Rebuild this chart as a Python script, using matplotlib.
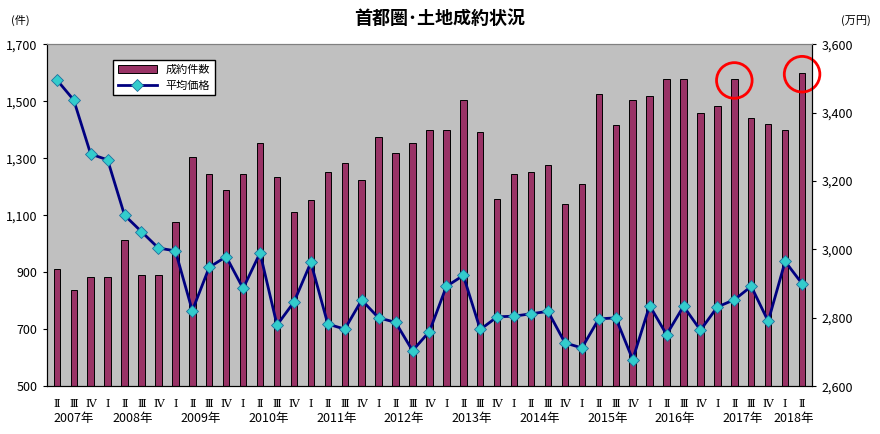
import matplotlib
matplotlib.use("Agg")
import matplotlib.pyplot as plt
from matplotlib.patches import Ellipse

plt.rcParams['font.family'] = ['Noto Sans CJK JP', 'DejaVu Sans']

quarters = ['Ⅱ','Ⅲ','Ⅳ'] + ['Ⅰ','Ⅱ','Ⅲ','Ⅳ']*10 + ['Ⅰ','Ⅱ']
years = ['2007年','2008年','2009年','2010年','2011年','2012年','2013年','2014年','2015年','2016年','2017年','2018年']
counts = [910, 838, 885, 882, 1012, 890, 890, 1077, 1305, 1246, 1190, 1246, 1352, 1235, 1110,
          1153, 1252, 1283, 1223, 1376, 1318, 1355, 1400, 1400, 1505, 1393, 1157, 1245, 1252,
          1276, 1140, 1208, 1527, 1418, 1503, 1520, 1578, 1578, 1460, 1482, 1578, 1442, 1420,
          1400, 1600]
prices = [3496, 3437, 3279, 3262, 3100, 3052, 3004, 2996, 2821, 2948, 2979, 2886, 2990, 2779,
          2846, 2962, 2782, 2767, 2852, 2800, 2787, 2704, 2760, 2892, 2924, 2766, 2803, 2805,
          2812, 2819, 2727, 2712, 2797, 2800, 2678, 2836, 2751, 2834, 2764, 2832, 2853, 2892,
          2790, 2965, 2900]
highlight = [40, 44]

fig = plt.figure(figsize=(8.8, 4.34), dpi=100)
ax = fig.add_axes([0.053, 0.11, 0.87, 0.788])
ax2 = ax.twinx()
ax.set_zorder(1); ax2.set_zorder(2); ax.patch.set_visible(True)
ax2.patch.set_visible(False)
ax.set_facecolor('#c0c0c0')

x = list(range(len(counts)))
ax.bar(x, counts, width=0.38, color='#993366', edgecolor='black', linewidth=0.7, label='成約件数')
ax.set_ylim(500, 1700)
ax.set_yticks(range(500, 1701, 200))
ax.set_yticklabels([f'{v:,}' for v in range(500, 1701, 200)], fontsize=9)
ax.set_xlim(-0.6, len(counts) - 0.4)
ax.set_xticks(x)
ax.set_xticklabels(quarters, fontsize=8, fontfamily='DejaVu Serif')
ax.tick_params(axis='x', length=0, pad=9)
ax.tick_params(axis='y', length=3)

ax2.plot(x, prices, color='#000080', linewidth=2, marker='D', markersize=6,
         markerfacecolor='#33cccc', markeredgecolor='#1f6f9f', markeredgewidth=0.6, label='平均価格')
ax2.set_ylim(2600, 3600)
ax2.set_yticks(range(2600, 3601, 200))
ax2.set_yticklabels([f'{v:,}' for v in range(2600, 3601, 200)], fontsize=9)
ax2.tick_params(axis='y', length=3)
for s in ['top']:
    ax.spines[s].set_color('#808080'); ax2.spines[s].set_color('#808080')

for i in highlight:
    ax.add_patch(Ellipse((i, counts[i] - 5), 2.1, 125, fill=False, edgecolor='red', linewidth=2, zorder=5, clip_on=False))

pos = []
idx = 0
sizes = [3] + [4]*10 + [2]
for n in sizes:
    pos.append(idx + (n - 1) / 2)
    idx += n
for p, yl in zip(pos, years):
    ax.text(p, -0.075, yl, transform=ax.get_xaxis_transform(), ha='center', va='top', fontsize=9)

h1, l1 = ax.get_legend_handles_labels()
h2, l2 = ax2.get_legend_handles_labels()
ax2.legend(h1 + h2, l1 + l2, loc='upper left', bbox_to_anchor=(0.08, 0.97), fontsize=8,
           frameon=True, fancybox=False, edgecolor='black', framealpha=1, facecolor='white',
           handlelength=3.5)

fig.text(0.5, 0.945, '首都圏･土地成約状況', ha='center', fontsize=13, fontweight='bold')
fig.text(0.012, 0.945, '(件)', fontsize=8)
fig.text(0.99, 0.945, '(万円)', fontsize=8, ha='right')

fig.savefig('out.png', dpi=100, facecolor='white')
